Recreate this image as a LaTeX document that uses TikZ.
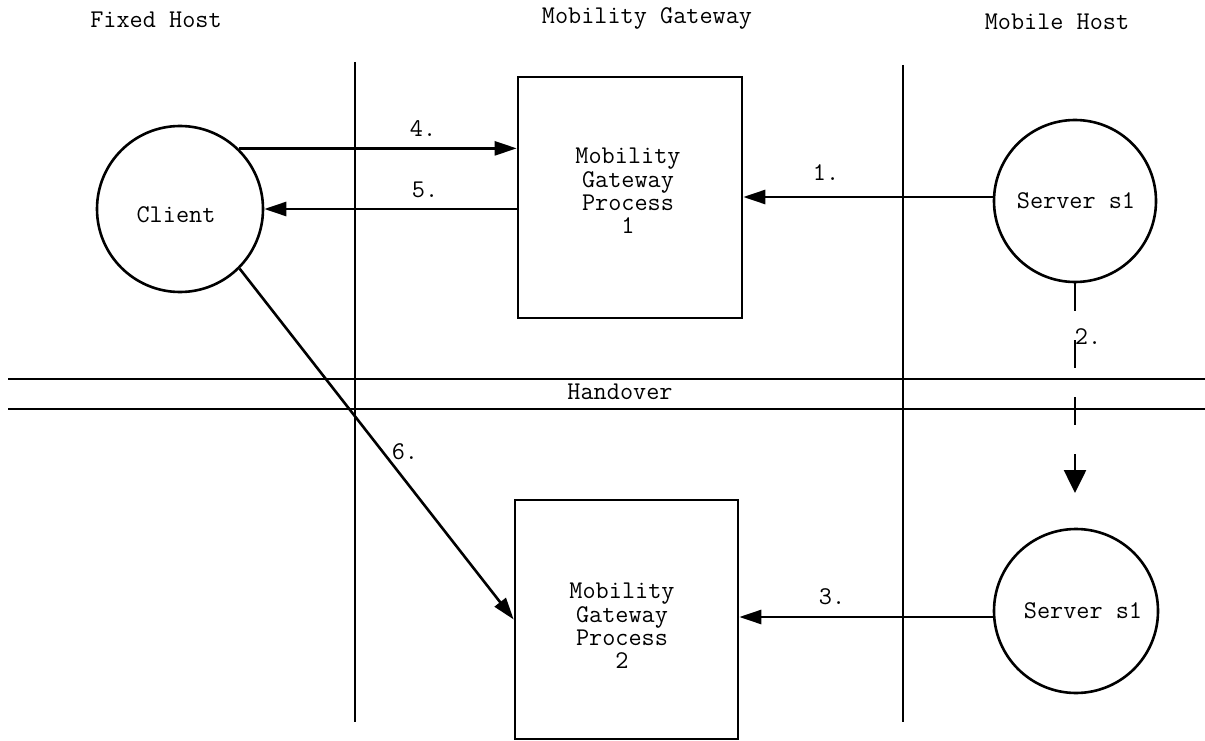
\documentclass[tikz,border=0pt]{standalone}
\usetikzlibrary{arrows.meta}
\begin{document}
\begin{tikzpicture}[x=1pt,y=-1pt,line width=2.6pt,
  every node/.style={font=\ttfamily\fontsize{25.5}{23.3}\selectfont,inner sep=0pt},
  procbox/.style={draw,rectangle,minimum width=224pt,minimum height=241pt},
  host/.style={draw,circle},
  arr/.style={-{Triangle[length=22pt,width=14pt]}},
  bigarr/.style={-{Triangle[length=23pt,width=22pt]}},
  dashedarr/.style={bigarr,dash pattern=on 28pt off 29pt},
  sep/.style={line width=2.6pt}]
\useasboundingbox (0,0) rectangle (1205,741);

% column titles
\node (tfix) at (156,20) {Fixed Host};
\node (tgw)  at (647,18) {Mobility Gateway};
\node (tmob) at (1057,22) {Mobile Host};

% separators
\coordinate (v1t) at (355,62);  \coordinate (v1b) at (355,722);
\coordinate (v2t) at (903,65);  \coordinate (v2b) at (903,722);
\coordinate (h1l) at (8,379);   \coordinate (h1r) at (1205,379);
\coordinate (h2l) at (8,409);   \coordinate (h2r) at (1205,409);
\draw[sep] (v1t) -- (v1b);
\draw[sep] (v2t) -- (v2b);
\draw[sep] (h1l) -- (h1r);
\draw[sep] (h2l) -- (h2r);
\node (hand) at (620,392) {Handover};

% hosts
\node[host,minimum size=166pt] (client) at (180,209) {};
\node (clientt) at (176,215) {Client};
\node[host,minimum size=162pt] (s1) at (1075,201) {};
\node (s1t) at (1076,201) {Server s1};
\node[host,minimum size=164pt] (s2) at (1076,611) {};
\node (s2t) at (1083,611) {Server s1};

% gateway processes
\node[procbox] (b1) at (630,197.5) {};
\node[align=center] (b1t) at (628,191) {Mobility\\Gateway\\Process\\1};
\node[procbox,minimum width=223pt,minimum height=239pt] (b2) at (626.5,619.5) {};
\node[align=center] (b2t) at (622,626) {Mobility\\Gateway\\Process\\2};

% connectors
\coordinate (y1) at (0,197);
\coordinate (y3) at (0,617);
\coordinate (tip2) at (1075,493);
\draw[arr] (s1.west |- y1) -- (b1.east |- y1);
\draw[dashedarr] (s1.south) -- (tip2);
\draw[arr] (s2.west |- y3) -- (b2.east |- y3);
\draw[arr] (client.46.5) -- (b1.west |- client.46.5);
\draw[arr] (b1.west |- client.east) -- (client.east);
\draw[arr] (client.-45) -- (b2.west);

% labels
\node (l1) at (826,173) {1.};
\node (l2) at (1088,337) {2.};
\node (l3) at (832,597) {3.};
\node (l4) at (423,129) {4.};
\node (l5) at (425,190) {5.};
\node (l6) at (405,452) {6.};
\end{tikzpicture}
\end{document}
